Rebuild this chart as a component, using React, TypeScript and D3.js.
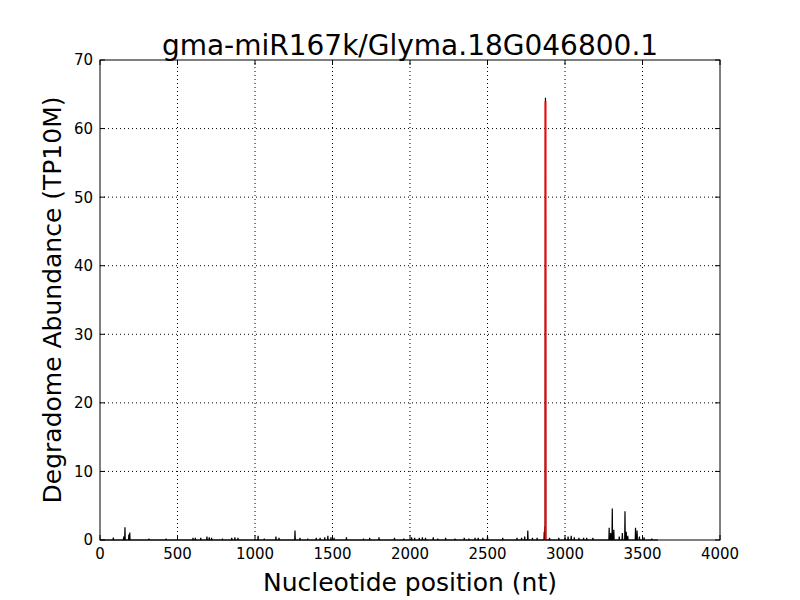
import React from "react";
import * as d3 from "d3";

// degradome read peaks (nucleotide position, abundance in TP10M)
const peakPos = [
  86, 153, 161, 186, 192, 316, 426, 600, 615, 650, 690, 705, 720, 790, 850, 870, 890,
  1020, 1060, 1135, 1155, 1258, 1290, 1340, 1395, 1420, 1450, 1470, 1490, 1510, 1590,
  1700, 1740, 1800, 1900, 1960, 2010, 2030, 2060, 2080, 2100, 2150, 2180, 2230, 2290,
  2350, 2380, 2420, 2440, 2470, 2500, 2598, 2690, 2720, 2740, 2760, 2790, 2820, 2866,
  2870, 2874, 2900, 2960, 3000, 3020, 3040, 3060, 3090, 3120, 3140, 3180, 3285, 3295,
  3305, 3315, 3350, 3370, 3387, 3395, 3405, 3455, 3465, 3480, 3510, 3560,
];
const peakVal = [
  0.35, 0.5, 1.85, 0.8, 1.1, 0.2, 0.2, 0.3, 0.3, 0.3, 0.5, 0.4, 0.3, 0.2, 0.3, 0.4, 0.3,
  0.6, 0.2, 0.5, 0.3, 1.4, 0.3, 0.2, 0.3, 0.3, 0.4, 0.6, 0.4, 0.3, 0.4,
  0.2, 0.3, 0.4, 0.3, 0.2, 0.4, 0.3, 0.3, 0.4, 0.3, 0.4, 0.2, 0.3, 0.2,
  0.3, 0.2, 0.3, 0.3, 0.3, 0.5, 0.3, 0.3, 0.3, 0.5, 1.4, 0.3, 0.3, 1.2,
  2.0, 64.5, 0.3, 0.3, 0.3, 0.5, 0.6, 0.4, 0.3, 0.3, 0.3, 0.3, 1.8, 1.0,
  4.6, 1.5, 0.5, 1.0, 4.2, 1.2, 0.6, 1.8, 1.4, 0.5, 0.4, 0.2,
];
const transcriptLen = 3600;

// predicted cleavage site
const sitePos = 2874;
const siteVal = 64;

const xTicks = [0, 500, 1000, 1500, 2000, 2500, 3000, 3500, 4000];
const yTicks = [0, 10, 20, 30, 40, 50, 60, 70];

const title = "gma-miR167k/Glyma.18G046800.1";
const xLabel = "Nucleotide position (nt)";
const yLabel = "Degradome Abundance (TP10M)";

export default function App() {
  const margin = { top: 60, right: 80, bottom: 60, left: 100 };
  const width = 800;
  const height = 600;
  const font = "'DejaVu Sans', sans-serif";

  const x = d3.scaleLinear().domain([0, 4000]).range([margin.left, width - margin.right]);
  const y = d3.scaleLinear().domain([0, 70]).range([height - margin.bottom, margin.top]);

  // profile line: baseline at zero with a spike at each peak
  const pts: [number, number][] = [[1, 0]];
  peakPos.forEach((p, i) => {
    pts.push([p - 2, 0], [p, peakVal[i]], [p + 2, 0]);
  });
  pts.push([transcriptLen, 0]);

  const line = d3.line<[number, number]>()
    .x((d) => x(d[0]))
    .y((d) => y(d[1]));

  const x0 = margin.left, x1 = width - margin.right;
  const y0 = height - margin.bottom, y1 = margin.top;
  const tickLen = 5;

  return (
    <div style={{ position: "absolute", left: 0, top: 0 }}>
      <svg width={width} height={height} style={{ display: "block", background: "#fff" }}>
        {/* grid */}
        {xTicks.slice(1, -1).map((t) => (
          <line key={"gx" + t} x1={x(t)} x2={x(t)} y1={y0} y2={y1}
            stroke="#000" strokeWidth={1} strokeDasharray="1,3" />
        ))}
        {yTicks.slice(1, -1).map((t) => (
          <line key={"gy" + t} x1={x0} x2={x1} y1={y(t)} y2={y(t)}
            stroke="#000" strokeWidth={1} strokeDasharray="1,3" />
        ))}

        <path d={line(pts) || ""} fill="none" stroke="#000" strokeWidth={1.2} />
        <line x1={x(sitePos)} x2={x(sitePos)} y1={y(0)} y2={y(siteVal)}
          stroke="#ff0000" strokeWidth={2} />

        {/* frame */}
        <rect x={x0} y={y1} width={x1 - x0} height={y0 - y1} fill="none" stroke="#000" strokeWidth={1} />

        {/* ticks */}
        {xTicks.map((t) => (
          <g key={"tx" + t}>
            <line x1={x(t)} x2={x(t)} y1={y0} y2={y0 - tickLen} stroke="#000" />
            <line x1={x(t)} x2={x(t)} y1={y1} y2={y1 + tickLen} stroke="#000" />
            <text x={x(t)} y={559} textAnchor="middle" fontFamily={font} fontSize={15}>{t}</text>
          </g>
        ))}
        {yTicks.map((t) => (
          <g key={"ty" + t}>
            <line x1={x0} x2={x0 + tickLen} y1={y(t)} y2={y(t)} stroke="#000" />
            <line x1={x1} x2={x1 - tickLen} y1={y(t)} y2={y(t)} stroke="#000" />
            <text x={x0 - 7} y={y(t)} dy="0.36em" textAnchor="end" fontFamily={font} fontSize={15}>{t}</text>
          </g>
        ))}

        <text x={(x0 + x1) / 2} y={55} textAnchor="middle" fontFamily={font} fontSize={28}>{title}</text>
        <text x={(x0 + x1) / 2} y={591} textAnchor="middle" fontFamily={font} fontSize={25}>{xLabel}</text>
        <text transform={`translate(61,${(y0 + y1) / 2}) rotate(-90)`} textAnchor="middle"
          fontFamily={font} fontSize={25}>{yLabel}</text>
      </svg>
    </div>
  );
}
